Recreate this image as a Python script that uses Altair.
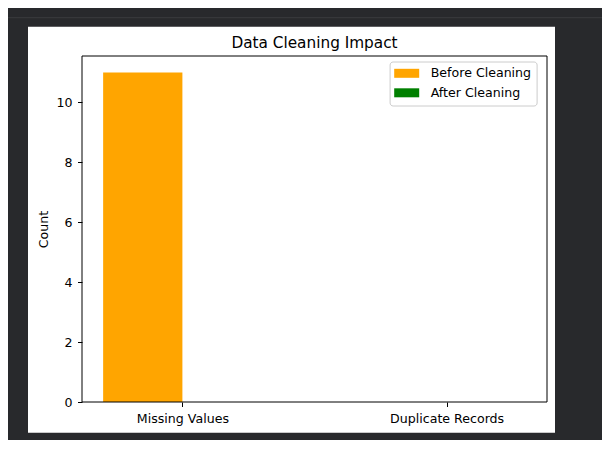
import json
import altair as alt
import pandas as pd

# ---- data ----
categories = ["Missing Values", "Duplicate Records"]
before_cleaning = [11, 0]
after_cleaning = [0, 0]
series_names = ["Before Cleaning", "After Cleaning"]
series_colors = ["orange", "green"]
y_tick_values = [0, 2, 4, 6, 8, 10]

# ---- build the bar table (matplotlib style grouped bars, width 0.3) ----
BAR_W = 0.3
rows = []
for i, cat in enumerate(categories):
    for name, vals, sign in ((series_names[0], before_cleaning, -1),
                             (series_names[1], after_cleaning, 1)):
        centre = i + sign * BAR_W / 2
        rows.append({"category": cat, "series": name, "value": vals[i],
                     "x0": centre - BAR_W / 2, "x1": centre + BAR_W / 2})
df = pd.DataFrame(rows)

xmin, xmax = df["x0"].min(), df["x1"].max()
span = xmax - xmin
x_domain = [xmin - 0.05 * span, xmax + 0.05 * span]
y_domain = [0, df["value"].max() * 1.05]

FONT = "DejaVu Sans"
one = pd.DataFrame({"k": [0]})

axis_style = dict(
    domain=False, grid=False, ticks=True, tickColor="black", tickSize=4.5,
    tickWidth=1, labelFont=FONT, labelFontSize=12.6, labelColor="black",
    labelPadding=5.5, titleFont=FONT, titleFontSize=12.6,
    titleFontWeight="normal", titleColor="black", titlePadding=5.8, zindex=2,
)

# white figure panel (decoration of the notebook output cell)
panel = alt.Chart(one).mark_rect(color="white").encode(
    x=alt.value(-54), x2=alt.value(473), y=alt.value(-29.3), y2=alt.value(376.7)
)
# notebook cell separator line
sep = alt.Chart(one).mark_rule(color="#3b3c3e", strokeWidth=1).encode(
    x=alt.value(-80), x2=alt.value(530), y=alt.value(-38.3)
)

bars = alt.Chart(df).mark_bar().encode(
    x=alt.X("x0:Q", scale=alt.Scale(domain=x_domain, nice=False, zero=False),
            axis=alt.Axis(title=None, values=[0, 1],
                          labelExpr=f"{json.dumps(categories)}[datum.value]",
                          **axis_style)),
    x2="x1:Q",
    y=alt.Y("value:Q", scale=alt.Scale(domain=y_domain, nice=False),
            axis=alt.Axis(title="Count", values=y_tick_values, **axis_style)),
    y2=alt.datum(0),
    color=alt.Color(
        "series:N",
        scale=alt.Scale(domain=series_names, range=series_colors),
        legend=alt.Legend(
            title=None, orient="none", legendX=307.6, legendY=5.5,
            fillColor="white", strokeColor="#cccccc", cornerRadius=3,
            padding=5.5, symbolType="M-1.6,-1L3.956,-1L3.956,1L-1.6,1Z",
            symbolSize=81, symbolStrokeWidth=0, symbolOpacity=1,
            labelFont=FONT, labelFontSize=12.6, labelColor="black",
            labelOffset=23, rowPadding=6.5, zindex=3,
        ),
    ),
)

# axes frame (matplotlib spines) drawn on top of the bars
frame = alt.Chart(one).mark_rect(fill="transparent", stroke="black", strokeWidth=1).encode(
    x=alt.value(0), x2=alt.value("width"), y=alt.value(0), y2=alt.value("height")
)

chart = (
    alt.layer(panel, sep, bars, frame)
    .properties(
        width=465, height=346,
        padding={"left": 74, "top": 48, "right": 55, "bottom": 38},
        autosize=alt.AutoSizeParams(type="none"),
        background="#28292c",
        title=alt.TitleParams("Data Cleaning Impact", font=FONT, fontSize=15.3,
                              fontWeight="normal", color="black",
                              baseline="alphabetic", offset=0, dy=46),
    )
    .configure_view(stroke=None)
)

chart.save("out.html", embed_options={"renderer": "svg", "actions": False})
